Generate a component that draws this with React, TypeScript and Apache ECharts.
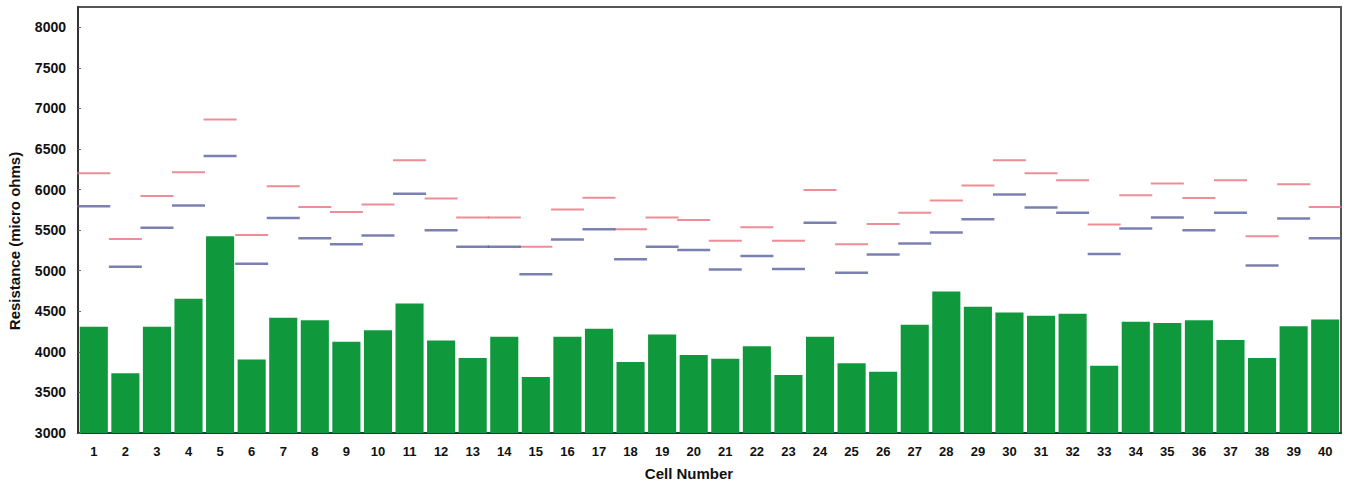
import React, { useEffect, useRef } from "react";
import * as echarts from "echarts";

const cells = Array.from({ length: 40 }, (_, i) => String(i + 1));
const barValues = [4310, 3735, 4310, 4655, 5425, 3905, 4420, 4390, 4125, 4265, 4595, 4140, 3925, 4185, 3690, 4185, 4285, 3875, 4215, 3960, 3915, 4070, 3715, 4185, 3860, 3755, 4335, 4745, 4555, 4485, 4445, 4470, 3830, 4370, 4355, 4390, 4145, 3925, 4315, 4400];
const redValues = [6200, 5390, 5920, 6215, 6865, 5440, 6040, 5785, 5725, 5815, 6360, 5890, 5655, 5655, 5295, 5755, 5900, 5510, 5655, 5625, 5370, 5535, 5370, 5995, 5325, 5575, 5715, 5865, 6050, 6360, 6200, 6115, 5570, 5930, 6075, 5895, 6115, 5425, 6065, 5785];
const blueValues = [5795, 5050, 5530, 5805, 6415, 5085, 5650, 5400, 5325, 5435, 5950, 5500, 5295, 5295, 4955, 5385, 5510, 5140, 5295, 5255, 5015, 5180, 5020, 5590, 4975, 5200, 5335, 5470, 5635, 5940, 5780, 5715, 5205, 5520, 5655, 5500, 5715, 5065, 5645, 5400];

const FONT = "'Liberation Sans', Arial, sans-serif";

export default function App() {
  const ref = useRef<HTMLDivElement>(null);
  useEffect(() => {
    if (!ref.current) return;
    const chart = echarts.init(ref.current, null, { renderer: "svg" });
    chart.setOption({
      animation: false,
      backgroundColor: "#ffffff",
      grid: {
        left: 78,
        right: 5,
        top: 7,
        bottom: 50,
        show: true,
        borderColor: "#555",
        borderWidth: 2,
        backgroundColor: "transparent",
      },
      xAxis: {
        type: "category",
        data: cells,
        axisLine: { lineStyle: { color: "#333", width: 2 } },
        axisTick: { show: false },
        axisLabel: {
          color: "#111",
          fontFamily: FONT,
          fontWeight: "bold",
          fontSize: 13,
          margin: 12,
          interval: 0,
        },
      },
      yAxis: {
        type: "value",
        min: 3000,
        max: 8250,
        interval: 500,
        axisLine: { show: true, lineStyle: { color: "#333", width: 2 } },
        axisTick: { show: true, inside: true, length: 3, lineStyle: { color: "#666" } },
        splitLine: { show: false },
        axisLabel: {
          showMaxLabel: false,
          color: "#111",
          fontFamily: FONT,
          fontWeight: "bold",
          fontSize: 14,
          margin: 12,
          formatter: (v: number) => String(v),
        },
      },
      graphic: [
        {
          type: "text",
          x: 14,
          y: 241,
          rotation: Math.PI / 2,
          style: {
            text: "Resistance (micro ohms)",
            fontFamily: FONT,
            fontWeight: "bold",
            fontSize: 15,
            fill: "#111",
            textAlign: "center",
            textVerticalAlign: "middle",
          },
        },
        {
          type: "text",
          x: 689,
          y: 473,
          style: {
            text: "Cell Number",
            fontFamily: FONT,
            fontWeight: "bold",
            fontSize: 15,
            fill: "#111",
            textAlign: "center",
            textVerticalAlign: "middle",
          },
        },
      ],
      series: [
        {
          type: "bar",
          data: barValues,
          barCategoryGap: "11%",
          itemStyle: { color: "#10983d" },
          z: 2,
        },
        {
          type: "scatter",
          data: redValues,
          symbol: "rect",
          symbolSize: [33, 2],
          itemStyle: { color: "#e8707c" },
          z: 3,
        },
        {
          type: "scatter",
          data: blueValues,
          symbol: "rect",
          symbolSize: [33, 2.5],
          itemStyle: { color: "#5a60a0" },
          z: 4,
        },
      ],
    });
    return () => chart.dispose();
  }, []);
  return (
    <div
      ref={ref}
      style={{ position: "fixed", left: 0, top: 0, width: 1346, height: 483 }}
    />
  );
}
